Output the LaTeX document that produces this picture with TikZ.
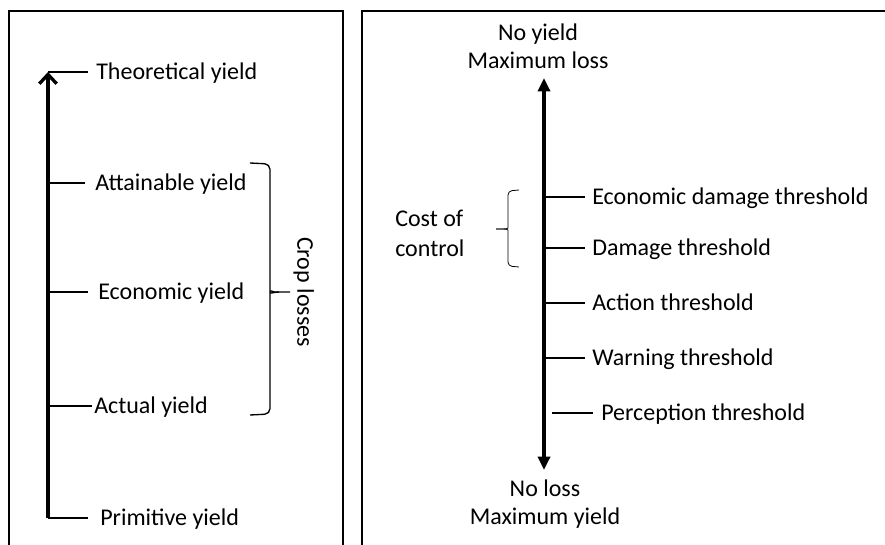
\documentclass[tikz,border=0pt]{standalone}
\usepackage{fontspec}
\setmainfont{Carlito}
\usepackage{tikz}
\usetikzlibrary{arrows.meta}
\tikzset{
  frame/.style={
    draw,
    line width=1.5pt
  },
  axisline/.style={
    line width=2.5pt
  },
  tick/.style={
    line width=1pt
  },
  curly/.style={
    line width=1pt,
    rounded corners=4pt
  },
  lbl/.style={
    anchor=west,
    inner sep=0pt,
    text height=11.5pt,
    text depth=0pt,
    font=\fontsize{18}{21}\selectfont
  },
  endlbl/.style={
    align=center,
    inner sep=0pt,
    font=\fontsize{18}{21}\selectfont
  }
}

\begin{document}
\begin{tikzpicture}[x=0.75pt, y=-0.75pt]
  \useasboundingbox (0,0) rectangle (885,545);
  \clip (0,0) rectangle (885,545);

  % the two panels
  \draw[frame] (9,560) -- (9,11) -- (343,11) -- (343,560);
  \draw[frame] (362,560) -- (362,11) -- (900,11);

  % left panel: yield levels
  \coordinate (Ltop) at (48,72);
  \coordinate (L2) at (48,183);
  \coordinate (L3) at (48,292);
  \coordinate (L4) at (48,406);
  \coordinate (Lbase) at (48,518);
  \draw[axisline, -{Straight Barb[length=7pt, width=13pt]}] (Lbase) -- (Ltop);

  \node[lbl] (theo) at (96,72) {Theoretical yield};
  \node[lbl] (attain) at (95,183) {Attainable yield};
  \node[lbl] (econ) at (98,292) {Economic yield};
  \node[lbl] (actual) at (94,406) {Actual yield};
  \node[lbl] (prim) at (100,518) {Primitive yield};
  \draw[tick, shorten >=6pt] (Ltop) -- (theo.west);
  \draw[tick, shorten >=7.5pt] (L2) -- (attain.west);
  \draw[tick, shorten >=7.5pt] (L3) -- (econ.west);
  \draw[tick, shorten >=1.5pt] (L4) -- (actual.west);
  \draw[tick, shorten >=9pt] (Lbase) -- (prim.west);

  % brace for the losses
  \draw[curly] (250,163) -- (270,164) -- (270,286)
    to[out=-90, in=180] (279,292) -- (290,292);
  \draw[curly] (279,292) to[out=180, in=90] (270,298)
    -- (270,414) -- (250,415);
  \node[lbl, anchor=center, rotate=-90] (losses) at (305,292) {Crop losses};

  % right panel: thresholds
  \coordinate (Rtop) at (544,78);
  \coordinate (Rbot) at (544,470);
  \draw[axisline, {Triangle[length=10pt, width=9pt]}-{Triangle[length=10pt, width=9pt]}] (Rbot) -- (Rtop);
  \node[endlbl] (noyield) at (538,46) {No yield\\Maximum loss};
  \node[endlbl] (noloss) at (545,504) {No loss\\Maximum yield};

  \coordinate (R1) at (544,197);
  \coordinate (R2) at (544,248);
  \coordinate (R3) at (544,303);
  \coordinate (R4) at (544,358);
  \coordinate (R5) at (552,413);
  \node[lbl] (ecodam) at (592,197) {Economic damage threshold};
  \node[lbl] (damage) at (592,248) {Damage threshold};
  \node[lbl] (action) at (592,303) {Action threshold};
  \node[lbl] (warning) at (592,358) {Warning threshold};
  \node[lbl] (percept) at (601,413) {Perception threshold};
  \draw[tick, shorten >=5pt] (R1) -- (ecodam.west);
  \draw[tick, shorten >=5pt] (R2) -- (damage.west);
  \draw[tick, shorten >=5pt] (R3) -- (action.west);
  \draw[tick, shorten >=5pt] (R4) -- (warning.west);
  \draw[tick, shorten >=6pt] (R5) -- (percept.west);

  % brace for the cost of control
  \draw[curly, line width=0.6pt, rounded corners=3pt] (519,190) -- (508,191) -- (508,224)
    to[out=-90, in=0] (496,229);
  \draw[curly, line width=0.6pt, rounded corners=3pt] (496,229) to[out=0, in=90] (508,234)
    -- (508,266) -- (519,267);
  \node[lbl, text height=, align=left, font=\fontsize{18}{22.5}\selectfont] (cost) at (395,233) {Cost of\\control};
\end{tikzpicture}
\end{document}
